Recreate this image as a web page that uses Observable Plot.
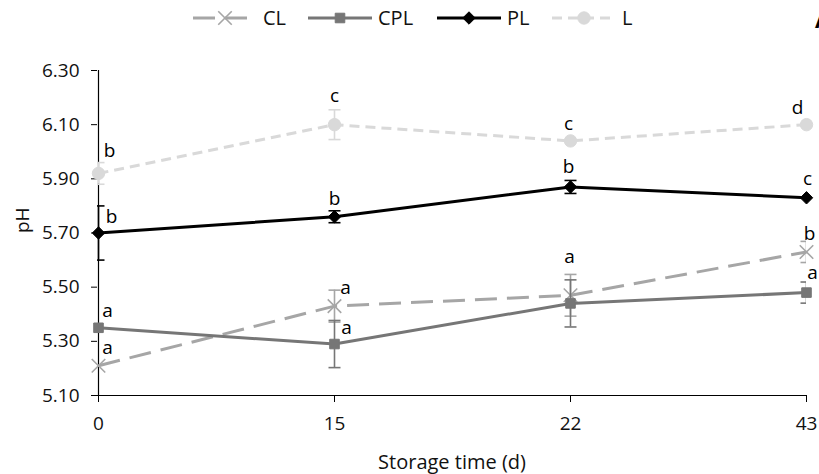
<!DOCTYPE html>
<html><head><meta charset="utf-8">
<script src="https://cdn.jsdelivr.net/npm/d3@7"></script>
<script src="https://cdn.jsdelivr.net/npm/@observablehq/plot@0.6"></script>
<style>
body{margin:0;background:#fff;font-family:"Open Sans",sans-serif;}
#chart{position:relative;width:819px;height:474px;overflow:hidden;background:#fff;}
#legend,#plot{display:block;}
</style></head><body><div id="chart"><div id="legend"></div><div id="plot"></div></div>
<script>
// ---------- data ----------
const days = ["0", "15", "22", "43"];
const yTicks = [5.10, 5.30, 5.50, 5.70, 5.90, 6.10, 6.30];
const seriesNames = ["CL", "CPL", "PL", "L"];

const clMean  = [5.21, 5.43, 5.47, 5.63];
const clErr   = [0, 0.059, 0.077, 0.039];
const cplMean = [5.35, 5.29, 5.44, 5.48];
const cplErr  = [0, 0.087, 0.087, 0.039];
const plMean  = [5.70, 5.76, 5.87, 5.83];
const plErr   = [0.10, 0.022, 0.024, 0];
const lMean   = [5.92, 6.10, 6.04, 6.10];
const lErr    = [0.04, 0.055, 0, 0];

const clLetters  = ["a", "a", "a", "b"];
const cplLetters = ["a", "a", null, "a"];
const plLetters  = ["b", "b", "b", "c"];
const lLetters   = ["b", "c", "c", "d"];

// ---------- styling / layout config ----------
const styles = {
  CL:  {color: "#a6a6a6", dash: "22,10", symbol: "times",    r: 6.2, fill: "none"},
  CPL: {color: "#767676", dash: null,    symbol: "square",   r: 5.4, fill: "#767676"},
  PL:  {color: "#000000", dash: null,    symbol: "diamond2", r: 5.6, fill: "#000000"},
  L:   {color: "#d9d9d9", dash: "10,6",  symbol: "circle",   r: 6.2, fill: "#d9d9d9"}
};
const labelOffsets = {
  CL:  [[9, -18], [11, -18], [-1, -38], [3, -18]],
  CPL: [[9, -17], [12, -16], [0, 0], [6, -20]],
  PL:  [[13, -16], [0, -18], [-2, -20], [1, -19]],
  L:   [[11, -23], [0, -29], [-2, -17], [-9, -17]]
};

const seriesData = {
  CL:  {mean: clMean,  err: clErr,  letters: clLetters},
  CPL: {mean: cplMean, err: cplErr, letters: cplLetters},
  PL:  {mean: plMean,  err: plErr,  letters: plLetters},
  L:   {mean: lMean,   err: lErr,   letters: lLetters}
};

const rows = {};
for (const s of seriesNames) {
  rows[s] = days.map((d, i) => ({
    series: s, day: d, value: seriesData[s].mean[i], err: seriesData[s].err[i],
    letter: seriesData[s].letters[i], i
  }));
}

const capSymbol = {draw(ctx) { ctx.moveTo(-6, 0); ctx.lineTo(6, 0); }};
const FONT = "'Open Sans', sans-serif";

const marks = [];
// axes
marks.push(Plot.axisY(yTicks, {tickSize: 6, tickPadding: 12, tickFormat: d => d.toFixed(2), label: null, fontSize: 19, fill: "#111", stroke: "#000"}));
marks.push(Plot.axisX(days, {tickSize: 7, tickPadding: 14, label: null, fontSize: 19, fill: "#111", stroke: "#000"}));
marks.push(Plot.ruleX([days[0]], {stroke: "#000", strokeWidth: 1.2}));
marks.push(Plot.ruleY([yTicks[0]], {stroke: "#000", strokeWidth: 1.2}));

for (const s of seriesNames) {
  const st = styles[s];
  const data = rows[s];
  const eb = data.filter(d => d.err > 0);
  marks.push(Plot.ruleX(eb, {x: "day", y1: d => d.value - d.err, y2: d => d.value + d.err, stroke: st.color, strokeWidth: 1.6, clip: true}));
  marks.push(Plot.dot(eb, {x: "day", y: d => d.value + d.err, symbol: capSymbol, stroke: st.color, strokeWidth: 1.6, fill: "none", clip: true}));
  marks.push(Plot.dot(eb, {x: "day", y: d => d.value - d.err, symbol: capSymbol, stroke: st.color, strokeWidth: 1.6, fill: "none", clip: true}));
  marks.push(Plot.line(data, {x: "day", y: "value", stroke: st.color, strokeWidth: 3, strokeDasharray: st.dash, strokeLinecap: "butt"}));
  marks.push(Plot.dot(data, {x: "day", y: "value", symbol: st.symbol, r: st.r, fill: st.fill, stroke: st.color, strokeWidth: s === "CL" ? 1.6 : 1}));
}
// significance letters
for (const s of seriesNames) {
  rows[s].forEach((d, i) => {
    if (!d.letter) return;
    const [dx, dy] = labelOffsets[s][i];
    marks.push(Plot.text([d], {x: "day", y: "value", text: "letter", dx, dy, fontSize: 19, fill: "#000"}));
  });
}
// axis titles
marks.push(Plot.text(["pH"], {frameAnchor: "left", dx: -75, rotate: -90, fontSize: 19, fill: "#111"}));
marks.push(Plot.text(["Storage time (d)"], {frameAnchor: "bottom", dy: 67, lineAnchor: "middle", fontSize: 20, fill: "#111"}));

const chart = Plot.plot({
  width: 819, height: 438,
  marginLeft: 97, marginRight: 13, marginTop: 34, marginBottom: 79,
  x: {type: "point", domain: days, padding: 0, axis: null},
  y: {domain: [5.1, 6.3], axis: null},
  style: {fontFamily: FONT, fontSize: "19px", color: "#111", background: "#fff", overflow: "visible"},
  marks
});
document.getElementById("plot").appendChild(chart);

// ---------- legend ----------
const legendItems = [
  {name: "CL", x: 193}, {name: "CPL", x: 308}, {name: "PL", x: 437}, {name: "L", x: 552}
];
const lg = d3.select("#legend").append("svg").attr("width", 819).attr("height", 36).style("display", "block");
const symbolMap = {times: d3.symbolTimes, square: d3.symbolSquare, diamond2: d3.symbolDiamond2, circle: d3.symbolCircle};
for (const it of legendItems) {
  const st = styles[it.name];
  const g = lg.append("g").attr("transform", `translate(${it.x},18)`);
  g.append("line").attr("x1", 0).attr("x2", 64).attr("y1", 0).attr("y2", 0)
    .attr("stroke", st.color).attr("stroke-width", 3)
    .attr("stroke-dasharray", st.dash ? st.dash : null);
  g.append("path").attr("transform", "translate(32,0)")
    .attr("d", d3.symbol(symbolMap[st.symbol], Math.PI * st.r * st.r)())
    .attr("fill", st.fill).attr("stroke", st.color).attr("stroke-width", it.name === "CL" ? 1.6 : 1);
  g.append("text").attr("x", 70).attr("y", 0).attr("dy", "0.35em")
    .attr("font-family", FONT).attr("font-size", 20).attr("fill", "#111").text(it.name);
}
lg.append("text").attr("x", 815).attr("y", 28).attr("font-family", FONT).attr("font-size", 22)
  .attr("font-weight", "bold").attr("fill", "#000").text("A");
</script></body></html>
